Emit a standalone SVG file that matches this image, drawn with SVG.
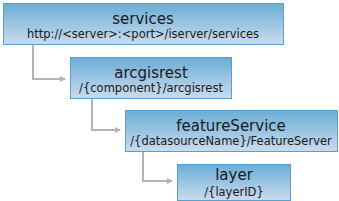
<svg xmlns="http://www.w3.org/2000/svg" width="339" height="201" viewBox="0 0 339 201">
<defs>
<linearGradient id="g" x1="0" y1="0" x2="0" y2="1">
<stop offset="0" stop-color="#6badd6"/>
<stop offset="1" stop-color="#cadcee"/>
</linearGradient>
<marker id="arr" markerWidth="6" markerHeight="6" refX="5" refY="3" orient="auto" markerUnits="userSpaceOnUse">
<path d="M0,0 L6,3 L0,6 Z" fill="#b4b4b4"/>
</marker>
<style>
.box{fill:url(#g);stroke:#5b9fcf;stroke-width:1}
.t{font-family:"DejaVu Sans",Verdana,sans-serif;font-size:15px;fill:#1a1a1a;text-anchor:middle}
.s{font-family:"DejaVu Sans",Verdana,sans-serif;font-size:11.5px;fill:#1a1a1a;text-anchor:middle}
.c{fill:none;stroke:#b4b4b4;stroke-width:2}
</style>
</defs>
<g id="connectors">
<path class="c" d="M33,44 V79 H65" marker-end="url(#arr)"/>
<path class="c" d="M92,98 V130 H120" marker-end="url(#arr)"/>
<path class="c" d="M143,152 V181 H172" marker-end="url(#arr)"/>
</g>
<g id="services">
<rect class="box" x="3.5" y="3.5" width="280" height="41"/>
<text class="t" x="143" y="24">services</text>
<text class="s" x="143" y="38">http://&lt;server&gt;:&lt;port&gt;/iserver/services</text>
</g>
<g id="arcgisrest">
<rect class="box" x="70.5" y="57.5" width="161" height="41"/>
<text class="t" x="151" y="78">arcgisrest</text>
<text class="s" x="151" y="92">/{component}/arcgisrest</text>
</g>
<g id="featureService">
<rect class="box" x="125.5" y="110.5" width="212" height="41"/>
<text class="t" x="231" y="131">featureService</text>
<text class="s" x="231" y="145">/{datasourceName}/FeatureServer</text>
</g>
<g id="layer">
<rect class="box" x="177.5" y="164.5" width="113" height="36"/>
<text class="t" x="234" y="180">layer</text>
<text class="s" x="234" y="196">/{layerID}</text>
</g>
</svg>
